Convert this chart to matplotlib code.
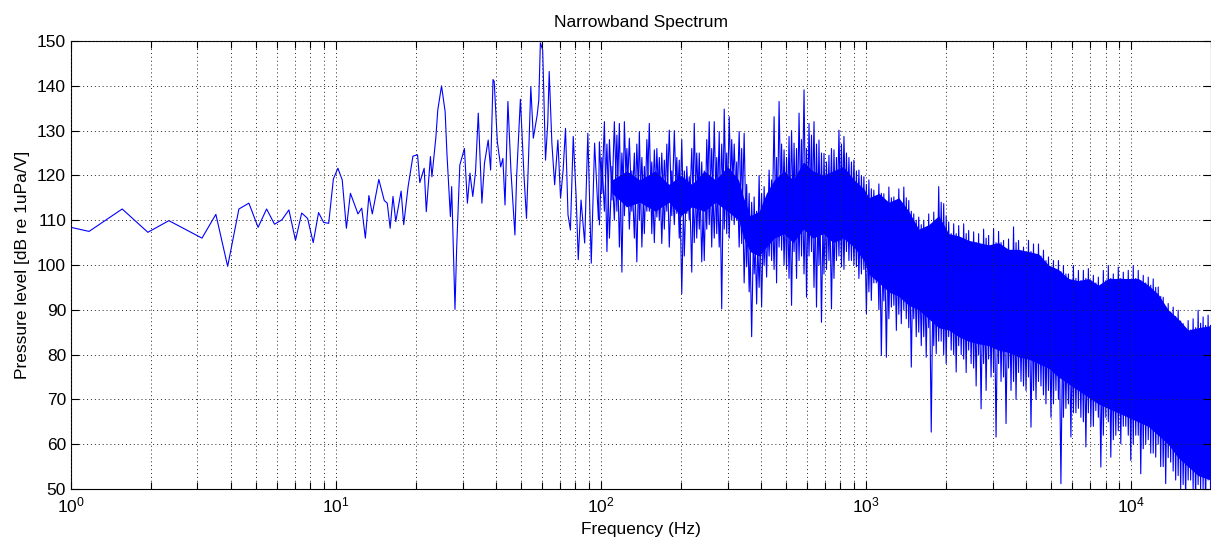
import numpy as np
import matplotlib
matplotlib.use("Agg")
import matplotlib.pyplot as plt
from matplotlib.ticker import LogLocator, MultipleLocator, NullFormatter

plt.rcParams['font.family'] = ['Liberation Sans', 'DejaVu Sans']
plt.rcParams['mathtext.fontset'] = 'custom'
plt.rcParams['mathtext.rm'] = 'Liberation Sans'
plt.rcParams['mathtext.it'] = 'Liberation Sans:italic'
plt.rcParams['mathtext.bf'] = 'Liberation Sans:bold'

# low frequency part, single bins (Hz, dB)
low_f = [1.0, 1.17, 1.56, 1.95, 2.34, 3.12, 3.52, 3.90, 4.30, 4.69, 5.08, 5.47,
         5.86, 6.25, 6.64, 7.03, 7.42, 7.81, 8.20, 8.59, 8.98, 9.38, 9.77, 10.16,
         10.55, 10.94, 11.33, 12.1, 12.5, 12.9, 13.3, 13.7, 14.5, 15.2, 15.6, 16.0,
         16.4, 16.8, 17.6, 18.0, 18.7, 19.5, 20.3, 20.7, 21.5, 21.9, 22.7, 23.0,
         23.8, 24.2, 25.0, 25.8, 26.2, 27.0, 27.3, 28.1, 28.5, 29.3, 30.5, 31.3,
         32.0, 32.8, 33.6, 34.4, 35.5, 36.3, 37.5, 38.3, 39.1, 39.5, 40.6, 41.8,
         42.6, 43.4, 44.5, 45.7, 47.3, 48.0, 49.6, 51.2, 52.3, 53.1, 54.3, 55.5,
         57.4, 58.2, 59.0, 60.2, 61.7, 62.9, 63.7, 65.2, 66.8, 68.7, 70.3, 71.9,
         73.4, 75.0, 76.6, 78.5, 80.5, 82.0, 84.0, 86.7, 89.1, 91.8, 94.5, 97.7]
low_db = [108.4, 107.5, 112.5, 107.3, 109.9, 106.0, 111.3, 99.7, 112.5, 113.8, 108.4, 112.5,
          109.1, 110.1, 112.3, 105.5, 111.6, 110.4, 105.0, 111.7, 109.5, 109.3, 119.2, 121.6,
          119.0, 108.2, 116.0, 111.4, 112.7, 106.0, 115.5, 111.4, 119.1, 114.4, 113.8, 108.2,
          115.3, 109.7, 116.5, 109.0, 117.5, 124.3, 124.6, 118.4, 121.6, 111.9, 124.2, 119.7,
          128.5, 134.6, 140.0, 134.2, 124.9, 110.8, 117.5, 90.1, 103.4, 122.3, 126.0, 113.8,
          120.5, 115.3, 120.9, 133.9, 113.8, 122.7, 127.9, 121.2, 141.4, 141.0, 127.5, 121.9,
          123.8, 113.4, 136.5, 120.9, 106.7, 119.7, 137.0, 119.7, 110.4, 121.9, 139.8, 128.3,
          133.5, 136.8, 149.6, 148.0, 123.4, 131.6, 143.2, 127.2, 117.9, 127.9, 114.9, 121.2,
          130.5, 111.2, 107.8, 128.7, 115.3, 101.2, 114.5, 104.9, 129.4, 100.4, 127.2, 110.1]

# dense part: local maxima
peak_f = [98.5, 102.9, 107.5, 112.2, 117.2, 122.4, 127.8, 133.5, 139.4, 145.6, 152.0, 158.8,
          165.8, 173.2, 180.8, 188.9, 197.2, 206.0, 215.1, 224.6, 234.6, 245.0, 255.8, 267.2,
          279.0, 291.4, 304.3, 317.8, 331.8, 346.5, 361.9, 377.9, 394.6, 412.1, 430.4, 449.4,
          469.3, 490.1, 511.8, 534.5, 558.2, 582.9, 608.7, 635.7, 663.8, 693.2, 723.9, 756.0,
          789.5, 824.5, 861.0, 899.1, 938.9, 980.5, 1024, 1069, 1117, 1166, 1218, 1272,
          1328, 1387, 1448, 1512, 1579, 1649, 1722, 1799, 1878, 1961, 2048, 2139,
          2234, 2333, 2436, 2544, 2656, 2774, 2897, 3025, 3159, 3299, 3445, 3598,
          3757, 3924, 4097, 4279, 4468, 4666, 4873, 5089, 5314, 5549, 5795, 6052,
          6320, 6600, 6892, 7197, 7516, 7849, 8197, 8560, 8939, 9335, 9748, 10180,
          10631, 11102, 11594, 12107, 12643, 13203, 13788, 14399, 15036, 15702, 16398, 17124,
          17883, 18675, 19502]
peak_db = [127.5, 132.0, 128.0, 132.0, 131.6, 132.0, 128.3, 125.0, 129.8, 122.0, 131.6, 125.7,
           124.0, 123.4, 130.1, 130.0, 123.4, 121.0, 119.7, 131.6, 125.0, 121.0, 132.0, 132.0,
           129.8, 134.8, 133.1, 127.0, 129.8, 129.4, 116.0, 115.2, 120.0, 117.5, 121.2, 133.1,
           136.5, 125.7, 128.7, 127.2, 133.9, 139.1, 131.6, 132.0, 127.9, 124.9, 124.5, 125.7,
           130.1, 128.7, 124.0, 123.4, 121.2, 119.7, 119.0, 116.7, 118.1, 115.9, 117.4, 115.2,
           117.0, 117.4, 114.4, 111.4, 110.7, 110.0, 111.4, 111.8, 117.5, 113.7, 109.6, 109.2,
           108.8, 109.2, 107.7, 107.4, 107.0, 108.0, 106.6, 108.1, 107.5, 105.5, 105.8, 108.5,
           105.5, 104.0, 105.5, 104.7, 104.7, 103.3, 101.8, 101.0, 101.0, 99.9, 98.0, 99.9,
           98.8, 98.8, 99.2, 97.7, 97.3, 98.8, 99.9, 98.0, 99.5, 98.4, 98.8, 99.9,
           98.8, 97.7, 97.3, 96.9, 95.1, 92.8, 91.4, 90.6, 89.9, 86.9, 87.6, 88.0,
           89.9, 88.4, 88.8]
# second pass of bins at the same frequencies (lower values)
alt_lo_db = [109, 112, 106, 110, 104, 111, 108, 106, 110, 107, 112, 105,
             110, 108, 104, 109, 106, 102, 110, 105, 108, 101, 109, 106,
             104, 108, 106, 109, 104, 96, 94, 98, 95, 100, 102, 99,
             104, 100, 97, 103, 101, 98, 102, 95, 100, 98, 101, 97,
             102, 99, 101, 100, 97, 99, 94, 96, 90, 92, 88, 91,
             89, 90, 86, 88, 85, 84, 86, 82, 83, 80, 84, 80,
             82, 79, 81, 77, 80, 78, 79, 76, 78, 75, 77, 74,
             76, 73, 75, 72, 74, 71, 72, 69, 70, 66, 69, 67,
             68, 65, 67, 64, 66, 62, 65, 61, 63, 64, 62, 60,
             62, 59, 61, 58, 60, 55, 57, 54, 53, 51, 52, 50,
             51, 50, 52]

# dense part: local minima
dip_f = [100.7, 105.2, 109.9, 114.7, 119.8, 125.1, 130.6, 136.4, 142.5, 148.8, 155.3, 162.3,
         169.4, 177.0, 184.8, 193.0, 201.5, 210.5, 219.8, 229.5, 239.7, 250.4, 261.4, 273.1,
         285.1, 297.8, 311.0, 324.8, 339.1, 354.1, 369.8, 386.2, 403.2, 421.1, 439.8, 459.2,
         479.6, 500.8, 523.0, 546.2, 570.4, 595.7, 622.0, 649.6, 678.3, 708.4, 739.8, 772.6,
         806.8, 842.6, 879.9, 918.8, 959.5, 1002, 1046, 1092, 1141, 1192, 1245, 1300,
         1357, 1417, 1480, 1545, 1614, 1685, 1760, 1838, 1919, 2004, 2093, 2186,
         2283, 2384, 2489, 2600, 2714, 2835, 2960, 3091, 3228, 3371, 3520, 3677,
         3839, 4010, 4187, 4373, 4566, 4768, 4980, 5200, 5430, 5671, 5922, 6185,
         6458, 6745, 7043, 7355, 7681, 8021, 8376, 8747, 9135, 9539, 9961, 10403,
         10864, 11345, 11848, 12372, 12920, 13492, 14090, 14714, 15365, 16046, 16757, 17499,
         18275, 19083, 19929]
dip_db = [116.0, 103.0, 114.5, 112.0, 98.4, 113.0, 112.0, 100.7, 104.0, 112.0, 107.0, 110.7,
          104.8, 112.0, 111.0, 111.5, 93.6, 111.5, 98.4, 106.0, 100.7, 108.0, 104.0, 107.0,
          90.2, 107.0, 110.0, 110.0, 104.8, 99.6, 84.0, 91.3, 90.6, 97.3, 101.0, 96.0,
          103.3, 99.0, 91.0, 97.0, 102.0, 92.8, 103.0, 90.6, 87.2, 99.0, 90.2, 101.0,
          99.6, 103.0, 101.0, 99.6, 98.0, 89.1, 92.1, 96.0, 79.8, 79.4, 90.6, 85.4,
          86.9, 88.0, 77.2, 84.0, 82.0, 79.4, 62.7, 80.2, 83.0, 78.0, 81.0, 76.1,
          80.0, 76.0, 78.0, 73.0, 67.9, 72.0, 75.0, 61.6, 74.0, 64.6, 72.0, 70.0,
          74.0, 72.0, 63.8, 70.0, 73.0, 69.0, 66.0, 72.0, 51.2, 68.0, 61.6, 67.0,
          66.0, 59.4, 64.0, 67.5, 54.9, 66.0, 57.1, 62.0, 60.1, 64.0, 56.4, 62.0,
          53.4, 60.0, 58.0, 57.1, 55.0, 51.2, 56.0, 52.0, 50.0, 48.0, 52.0, 47.0,
          50.0, 46.0, 49.0]
# second pass of bins at the dip frequencies (higher values)
alt_hi_db = [124, 127, 122, 129, 125, 126, 121, 127, 124, 128, 123, 126,
             125, 127, 121, 124, 128, 122, 126, 125, 123, 128, 126, 124,
             127, 125, 128, 123, 126, 118, 114, 112, 116, 115, 119, 124,
             127, 124, 130, 126, 128, 126, 129, 127, 125, 123, 126, 124,
             127, 125, 123, 121, 120, 118, 117, 115, 116, 114, 115, 113,
             114, 115, 112, 110, 109, 108, 109, 110, 114, 111, 107, 107,
             106, 107, 105, 105, 104, 106, 104, 105, 105, 103, 103, 105,
             103, 102, 103, 102, 102, 101, 99.5, 99, 98.5, 98, 96, 97,
             96.5, 97, 96.5, 96, 95.5, 96.5, 97, 96, 97, 96.5, 96.5, 97,
             96.5, 96, 95.5, 95, 93, 90.5, 89.5, 88.5, 87.5, 85.5, 85.5, 86,
             87, 86.5, 86.5]

# solid core of the dense band
core_f = [110, 125, 140, 160, 180, 200, 220, 245, 270, 300, 330, 345,
          365, 395, 420, 450, 490, 530, 580, 630, 690, 750, 820, 900,
          980, 1024, 1117, 1218, 1328, 1448, 1579, 1722, 1878, 2048, 2234, 2436,
          2656, 2897, 3159, 3445, 3757, 4097, 4468, 4873, 5314, 5795, 6320, 6892,
          7516, 8197, 8939, 9748, 10631, 11594, 12643, 13788, 15036, 16398, 17883, 20000]
core_hi = [119, 121, 119, 121, 118, 120, 118, 121, 119, 122, 119, 115,
           111, 112, 116, 119, 121, 119, 123, 121, 120, 121, 122, 119,
           117, 115, 116, 114, 115, 112, 108, 109, 111, 107, 106.5, 105.5,
           105, 104.5, 105, 103.5, 103.5, 103, 102.5, 100, 99, 97, 96.5, 97,
           95.5, 97, 97, 97, 97, 95.5, 93.5, 90, 88, 85.5, 86, 86.5]
core_lo = [116, 113, 114, 112, 114, 111, 113, 112, 114, 112, 110, 106,
           103, 102, 104, 106, 107, 105, 108, 106, 107, 105, 106, 104,
           101, 98, 96, 94, 93, 91, 90, 88, 86, 85.5, 84, 83,
           82.4, 82, 81, 80.5, 79.5, 79, 78, 77, 75, 73.5, 72, 70.5,
           69, 68, 67, 66, 65, 64, 62, 60, 57, 55, 53, 52]

trace_f = np.concatenate([low_f, peak_f, dip_f])
trace_db = np.concatenate([low_db, peak_db, dip_db])
order = np.argsort(trace_f)
trace_f = trace_f[order]
trace_db = trace_db[order]

alt_f = np.concatenate([peak_f, dip_f])
alt_db = np.concatenate([alt_lo_db, alt_hi_db])
order = np.argsort(alt_f)
alt_f = alt_f[order]
alt_db = alt_db[order]

fig = plt.figure(figsize=(12.11, 5.40), dpi=100)
ax = fig.add_axes([71 / 1211, 51 / 540, 1140 / 1211, 448 / 540])

ax.fill_between(core_f, core_lo, core_hi, color='b', lw=0)
ax.plot(alt_f, alt_db, color='b', lw=0.8)
ax.plot(trace_f, trace_db, color='b', lw=0.8)

ax.set_xscale('log')
ax.set_xlim(1, 2e4)
ax.set_ylim(50, 150)
ax.yaxis.set_major_locator(MultipleLocator(10))
ax.xaxis.set_major_locator(LogLocator(base=10, numticks=10))
ax.xaxis.set_minor_locator(LogLocator(base=10, subs=np.arange(2, 10), numticks=50))
ax.xaxis.set_minor_formatter(NullFormatter())

ax.tick_params(which='both', direction='in', top=True, right=True,
               width=0.8, color='k', labelsize=12.5)
ax.tick_params(which='major', length=6, pad=3.6)
ax.tick_params(which='minor', length=5)
ax.tick_params(axis='x', which='major', pad=4.5)

ax.set_axisbelow(False)
ax.grid(True, which='major', axis='both', ls=(0, (1, 3)), lw=0.7, color='0.15')
ax.grid(True, which='minor', axis='x', ls=(0, (1, 3)), lw=0.7, color='0.15')
for s in ax.spines.values():
    s.set_linewidth(0.8)
    s.set_color('k')

ax.set_title('Narrowband Spectrum', fontsize=12.5, pad=10)
ax.set_xlabel('Frequency (Hz)', fontsize=12.5, labelpad=5)
ax.set_ylabel('Pressure level [dB re 1uPa/V]', fontsize=12.5, labelpad=5)

fig.savefig('out.png', dpi=100)
